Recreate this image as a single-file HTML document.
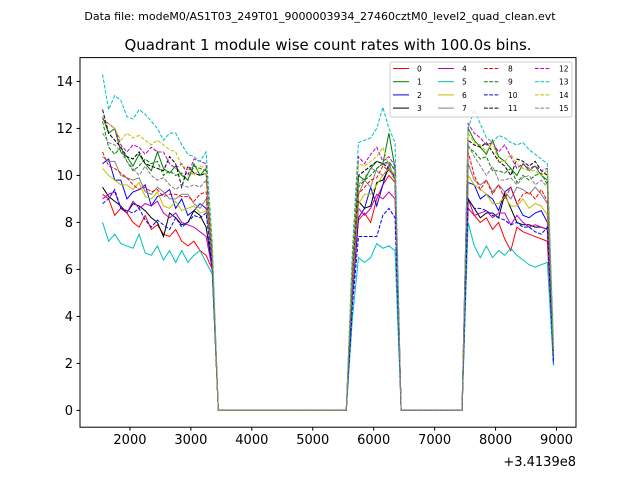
<!DOCTYPE html>
<html><head><meta charset="utf-8"><style>
html,body{margin:0;padding:0;background:#fff}
svg{display:block;font-family:"DejaVu Sans","Liberation Sans",sans-serif}
</style></head><body>
<svg id="chart" width="640" height="480" viewBox="0 0 640 480" xmlns="http://www.w3.org/2000/svg">
<rect x="0" y="0" width="640" height="480" fill="#fff"/>
<text x="320" y="20" text-anchor="middle" font-size="11">Data file: modeM0/AS1T03_249T01_9000003934_27460cztM0_level2_quad_clean.evt</text>
<text x="328" y="50" text-anchor="middle" font-size="15">Quadrant 1 module wise count rates with 100.0s bins.</text>
<g id="plot"></g>
<rect x="80" y="57.6" width="496" height="369.6" fill="none" stroke="#000" stroke-width="1"/>
<g id="ticks"></g>
<text x="576" y="466" text-anchor="end" font-size="13">+3.4139e8</text>
<g id="legend"></g>
</svg>
<script>
const xTicks=[2000,3000,4000,5000,6000,7000,8000,9000];
const yTicks=[0,2,4,6,8,10,12,14];
const seg1Start=1550, seg2Start=5650, seg3Start=7550, endTime=8950;
const s1=[
[9.2,9.0,8.3,8.6,8.4,8.0,7.8,8.3,7.7,7.9,7.5,7.4,7.7,7.2,7.0,7.2,6.8,6.6,6.0],
[12.5,11.8,12.0,11.0,10.8,10.4,10.9,10.5,10.2,11.0,10.3,10.1,10.4,10.0,9.8,10.5,10.0,10.3,6.2],
[10.5,10.7,9.8,9.8,9.0,9.3,9.4,9.6,8.7,9.1,9.2,9.4,8.6,9.0,8.3,8.5,8.8,8.6,6.3],
[9.5,9.1,8.9,8.7,8.4,8.8,8.7,8.5,8.2,8.0,7.4,8.4,8.2,7.9,8.0,8.5,8.3,7.8,6.1],
[9.0,9.2,9.3,8.6,8.4,8.9,8.6,8.8,8.7,8.9,8.4,8.2,8.4,8.0,7.9,7.8,7.6,7.4,6.0],
[8.0,7.2,7.5,7.1,7.0,6.9,7.5,6.7,6.6,7.0,6.4,6.8,6.3,6.8,6.3,6.6,6.8,6.3,5.8],
[10.3,10.0,9.8,9.6,9.6,9.4,9.7,9.1,9.0,9.3,8.7,8.6,8.9,8.5,8.6,8.7,8.4,8.5,6.4],
[10.8,10.6,10.6,10.0,9.9,9.8,9.9,9.3,9.2,9.5,9.3,9.0,9.0,9.2,9.2,8.8,8.6,9.0,6.3],
[11.0,10.4,10.3,10.1,9.9,9.6,9.4,9.5,9.3,9.4,9.1,9.2,9.2,9.1,9.1,8.9,9.2,9.3,6.5],
[12.3,11.2,10.9,11.2,10.6,10.2,10.4,10.7,10.5,10.6,10.0,10.2,10.0,10.1,9.8,10.4,10.3,10.2,6.6],
[8.8,9.0,9.4,8.6,8.5,8.4,8.6,8.1,7.8,8.1,7.9,7.7,8.2,7.8,8.0,8.3,8.2,8.4,6.1],
[12.8,11.8,11.5,11.2,10.8,10.7,11.0,10.5,10.4,10.3,10.2,10.8,10.5,9.5,10.4,10.1,10.0,10.1,6.7],
[12.4,12.2,12.0,11.3,11.0,11.3,11.2,10.9,11.2,11.0,11.0,10.5,10.3,10.5,10.0,10.7,10.6,10.5,6.8],
[14.3,12.8,13.4,13.2,12.5,12.4,12.8,12.6,12.3,12.0,11.5,11.8,11.8,11.3,10.9,10.8,10.6,11.0,7.2],
[12.2,12.2,12.0,11.5,11.8,11.6,11.7,11.5,11.3,11.5,11.3,11.1,11.0,10.4,10.3,10.0,10.4,10.3,6.9],
[11.8,11.4,11.3,11.0,10.6,10.3,10.0,10.4,10.0,9.8,9.9,9.6,9.4,9.6,9.5,9.6,9.5,9.8,6.4]];
const s2=[
[4.9,8.1,8.4,8.0,9.0,9.6,10.0,9.7],
[6.0,10.0,9.8,10.3,10.6,10.5,11.8,10.3],
[4.9,8.2,8.6,9.5,8.7,9.6,10.5,9.8],
[5.3,8.9,8.6,8.7,9.7,9.8,10.3,10.0],
[5.2,8.6,8.3,8.6,9.2,9.0,9.3,9.0],
[3.9,6.5,6.3,6.5,7.1,6.9,7.0,6.8],
[5.3,8.8,9.2,9.2,9.6,10.0,10.3,10.0],
[5.5,9.2,9.8,9.5,10.3,10.5,10.5,10.3],
[5.5,9.2,9.5,9.8,9.9,10.4,10.2,10.0],
[5.7,9.5,9.8,10.0,10.3,10.5,10.6,10.2],
[4.4,7.4,7.4,7.4,7.4,8.3,8.6,8.2],
[6.0,10.0,10.2,10.4,10.6,10.5,10.3,9.8],
[6.5,10.8,10.5,10.9,11.2,10.6,10.8,10.4],
[6.8,11.4,11.5,11.6,12.0,12.9,12.0,11.4],
[6.3,10.5,10.4,10.6,10.8,11.2,10.4,10.0],
[5.8,9.6,9.9,10.3,10.2,10.0,10.3,9.8]];
const s3=[
[9.0,8.3,8.0,8.2,7.7,8.0,7.3,6.8,7.8,7.6,7.5,7.4,7.3,7.2],
[12.0,11.5,11.2,10.9,11.5,10.8,10.6,10.3,10.0,10.5,10.2,10.4,10.0,9.8],
[9.7,9.6,9.0,9.2,9.0,8.5,9.3,9.5,8.8,8.3,8.2,8.4,8.5,8.0],
[9.0,8.6,8.2,8.4,8.4,8.2,9.2,8.6,8.0,7.9,7.9,7.8,7.8,7.7],
[8.6,8.3,8.4,8.5,8.2,8.4,8.4,7.9,8.3,8.0,7.8,7.9,7.8,7.7],
[8.0,7.0,6.5,7.0,6.5,6.8,6.6,6.9,6.6,6.4,6.2,6.1,6.2,6.3],
[10.0,9.6,9.4,9.2,8.8,8.8,9.1,8.7,8.7,9.0,8.6,8.8,8.7,8.3],
[10.5,9.8,9.6,9.8,9.3,9.6,9.3,9.0,9.5,9.4,9.2,9.5,9.2,8.8],
[11.0,10.0,9.4,9.8,9.2,9.6,9.0,9.5,8.8,9.2,9.3,9.0,9.4,8.9],
[11.2,11.0,10.7,10.8,10.2,10.2,10.1,10.3,9.7,10.0,9.8,10.0,10.1,9.6],
[9.0,8.6,8.6,8.5,8.3,8.2,8.1,7.9,8.0,7.8,7.8,7.6,7.5,7.8],
[11.5,11.3,11.2,11.4,11.0,10.6,10.4,10.0,10.7,10.6,10.4,10.6,10.2,10.0],
[12.2,11.8,11.6,11.3,11.4,11.0,11.3,10.8,10.3,10.5,10.3,10.4,10.2,10.3],
[12.0,12.8,12.2,11.6,11.4,11.7,11.6,11.4,11.3,11.4,11.1,10.9,10.7,10.5],
[11.8,11.4,11.3,11.0,11.4,10.6,10.6,10.9,10.5,10.3,10.2,10.2,10.0,10.2],
[11.3,10.8,10.4,10.0,10.4,9.8,9.8,9.9,9.6,9.9,10.0,9.6,9.8,9.5]];
const endVals=[2.2,2.5,2.0,2.4,2.1,1.9,2.3,2.2,2.3,2.3,2.0,2.4,2.5,3.0,2.6,2.3];
const labels=["0","1","2","3","4","5","6","7","8","9","10","11","12","13","14","15"];

const NS="http://www.w3.org/2000/svg";
const colors=["#ff0000","#008000","#0000ff","#000000","#bf00bf","#00bfbf","#bfbf00","#808080"];
const X0=80,X1=576,Y0=427.2,Y1=57.6;
const xmin=1180,xmax=9320,ymin=-0.715,ymax=15.015;
const xs=v=>X0+(v-xmin)/(xmax-xmin)*(X1-X0);
const ys=v=>Y0-(v-ymin)/(ymax-ymin)*(Y0-Y1);

function seriesPoints(i){
  const pts=[];
  s1[i].forEach((v,k)=>pts.push([seg1Start+100*k,v]));
  for(let t=seg1Start+100*s1[i].length;t<seg2Start;t+=100)pts.push([t,0]);
  s2[i].forEach((v,k)=>pts.push([seg2Start+100*k,v]));
  for(let t=seg2Start+100*s2[i].length;t<seg3Start;t+=100)pts.push([t,0]);
  s3[i].forEach((v,k)=>pts.push([seg3Start+100*k,v]));
  pts.push([endTime,endVals[i]]);
  return pts;
}
const plot=document.getElementById('plot');
for(let i=0;i<16;i++){
  const p=document.createElementNS(NS,'polyline');
  p.setAttribute('points',seriesPoints(i).map(d=>xs(d[0]).toFixed(2)+','+ys(d[1]).toFixed(2)).join(' '));
  p.setAttribute('fill','none');
  p.setAttribute('stroke',colors[i%8]);
  p.setAttribute('stroke-width','1');
  if(i>=8)p.setAttribute('stroke-dasharray','3.7,1.6');
  
  
  plot.appendChild(p);
}
const tk=document.getElementById('ticks');
xTicks.forEach(v=>{
  const x=xs(v);
  const l=document.createElementNS(NS,'line');
  l.setAttribute('x1',x);l.setAttribute('x2',x);l.setAttribute('y1',Y0);l.setAttribute('y2',Y0+3.5);l.setAttribute('stroke','#000');
  
  
  tk.appendChild(l);
  const t=document.createElementNS(NS,'text');
  t.setAttribute('x',x);t.setAttribute('y',Y0+17);t.setAttribute('text-anchor','middle');t.setAttribute('font-size','13');
  t.textContent=v;
  
  
  tk.appendChild(t);
});
yTicks.forEach(v=>{
  const y=ys(v);
  const l=document.createElementNS(NS,'line');
  l.setAttribute('x1',X0-3.5);l.setAttribute('x2',X0);l.setAttribute('y1',y);l.setAttribute('y2',y);l.setAttribute('stroke','#000');
  
  
  tk.appendChild(l);
  const t=document.createElementNS(NS,'text');
  t.setAttribute('x',X0-7);t.setAttribute('y',y+4.5);t.setAttribute('text-anchor','end');t.setAttribute('font-size','13');
  t.textContent=v;
  
  
  tk.appendChild(t);
});
const lg=document.getElementById('legend');
const box=document.createElementNS(NS,'rect');
box.setAttribute('x',390);box.setAttribute('y',62);box.setAttribute('width',182);box.setAttribute('height',55);box.setAttribute('rx',2);
box.setAttribute('fill','#fff');box.setAttribute('fill-opacity','0.8');box.setAttribute('stroke','#ccc');


lg.appendChild(box);
const colX=[393,438,484,535];
for(let i=0;i<16;i++){
  const c=Math.floor(i/4),r=i%4,y=68.5+r*13.2;
  const g=document.createElementNS(NS,'g');
  
  
  const l=document.createElementNS(NS,'line');
  l.setAttribute('x1',colX[c]);l.setAttribute('x2',colX[c]+16);l.setAttribute('y1',y);l.setAttribute('y2',y);
  l.setAttribute('stroke',colors[i%8]);l.setAttribute('stroke-width','1');
  if(i>=8)l.setAttribute('stroke-dasharray','3.7,1.6');
  g.appendChild(l);
  const t=document.createElementNS(NS,'text');
  t.setAttribute('x',colX[c]+24);t.setAttribute('y',y+3);t.setAttribute('font-size','7.5');
  t.textContent=labels[i];
  g.appendChild(t);
  lg.appendChild(g);
}
</script>
</body></html>
